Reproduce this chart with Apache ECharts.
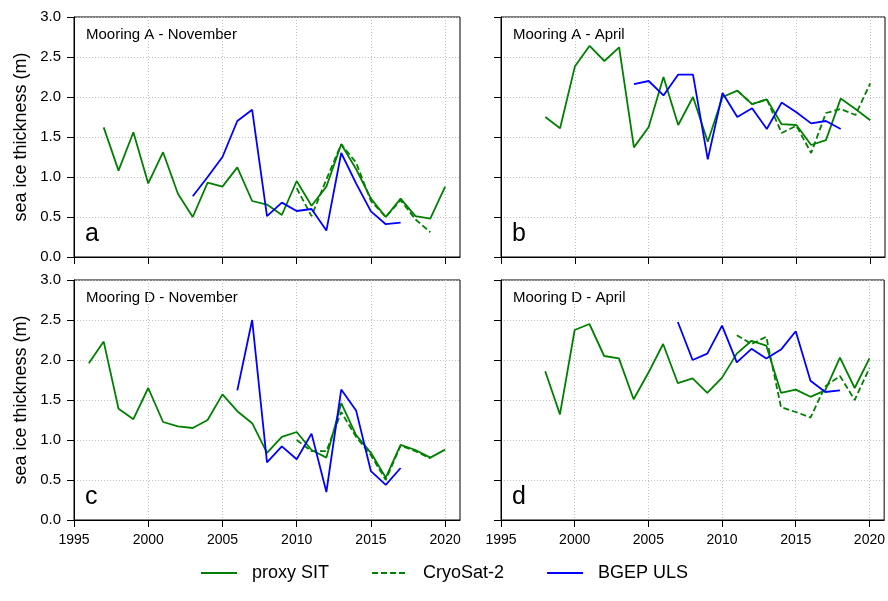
<!DOCTYPE html>
<html><head><meta charset="utf-8">
<script src="https://cdn.jsdelivr.net/npm/echarts@6/dist/echarts.min.js"></script>
<style>html,body{margin:0;padding:0;background:#fff}#c{width:888px;height:601px}</style>
</head><body><div id="c"></div>
<script>
// ---- data ----
const panelTitles = ['Mooring A - November', 'Mooring A - April', 'Mooring D - November', 'Mooring D - April'];
const panelLetters = ['a', 'b', 'c', 'd'];
const xTicks = [1995, 2000, 2005, 2010, 2015, 2020];
const yTicks = [0, 0.5, 1.0, 1.5, 2.0, 2.5, 3.0];
const seriesNames = ['proxy SIT', 'CryoSat-2', 'BGEP ULS'];

// Panel a: Mooring A - November
const aProxyYears = [1997,1998,1999,2000,2001,2002,2003,2004,2005,2006,2007,2008,2009,2010,2011,2012,2013,2014,2015,2016,2017,2018,2019,2020];
const aProxy = [1.62,1.08,1.56,0.92,1.31,0.79,0.50,0.93,0.88,1.12,0.70,0.655,0.525,0.95,0.64,0.88,1.41,1.10,0.73,0.50,0.73,0.51,0.48,0.88];
const aCryoYears = [2010,2011,2012,2013,2014,2015,2016,2017,2018,2019];
const aCryo = [0.86,0.51,0.97,1.41,1.18,0.70,0.50,0.71,0.47,0.31];
const aUlsYears = [2003,2004,2005,2006,2007,2008,2009,2010,2011,2012,2013,2014,2015,2016,2017];
const aUls = [0.76,1.00,1.25,1.70,1.84,0.51,0.68,0.575,0.60,0.33,1.30,0.92,0.57,0.41,0.43];

// Panel b: Mooring A - April
const bProxyYears = [1998,1999,2000,2001,2002,2003,2004,2005,2006,2007,2008,2009,2010,2011,2012,2013,2014,2015,2016,2017,2018,2019,2020];
const bProxy = [1.75,1.61,2.38,2.64,2.45,2.62,1.37,1.625,2.25,1.65,2.00,1.44,2.00,2.08,1.91,1.97,1.66,1.65,1.40,1.46,1.98,1.85,1.71];
const bCryoYears = [2011,2012,2013,2014,2015,2016,2017,2018,2019,2020];
const bCryo = [2.08,1.91,1.97,1.55,1.64,1.30,1.80,1.85,1.775,2.17];
const bUlsYears = [2004,2005,2006,2007,2008,2009,2010,2011,2012,2013,2014,2015,2016,2017,2018];
const bUls = [2.16,2.20,2.02,2.28,2.28,1.22,2.05,1.75,1.86,1.60,1.93,1.81,1.67,1.70,1.60];

// Panel c: Mooring D - November
const cProxyYears = [1996,1997,1998,1999,2000,2001,2002,2003,2004,2005,2006,2007,2008,2009,2010,2011,2012,2013,2014,2015,2016,2017,2018,2019,2020];
const cProxy = [1.96,2.23,1.39,1.26,1.65,1.225,1.17,1.15,1.25,1.57,1.36,1.21,0.84,1.04,1.10,0.875,0.78,1.46,1.06,0.84,0.53,0.94,0.875,0.78,0.88];
const cCryoYears = [2010,2011,2012,2013,2014,2015,2016,2017,2018,2019];
const cCryo = [1.00,0.86,0.86,1.35,1.04,0.81,0.50,0.93,0.86,0.77];
const cUlsYears = [2006,2007,2008,2009,2010,2011,2012,2013,2014,2015,2016,2017];
const cUls = [1.62,2.50,0.72,0.92,0.76,1.08,0.35,1.63,1.37,0.61,0.44,0.65];

// Panel d: Mooring D - April
const dProxyYears = [1998,1999,2000,2001,2002,2003,2004,2005,2006,2007,2008,2009,2010,2011,2012,2013,2014,2015,2016,2017,2018,2019,2020];
const dProxy = [1.86,1.32,2.375,2.45,2.05,2.02,1.51,1.84,2.20,1.71,1.77,1.59,1.78,2.08,2.24,2.18,1.59,1.63,1.54,1.62,2.03,1.65,2.02];
const dCryoYears = [2011,2012,2013,2014,2015,2016,2017,2018,2019,2020];
const dCryo = [2.31,2.20,2.29,1.41,1.35,1.28,1.67,1.80,1.50,1.90];
const dUlsYears = [2007,2008,2009,2010,2011,2012,2013,2014,2015,2016,2017,2018];
const dUls = [2.475,2.00,2.08,2.43,1.97,2.14,2.02,2.13,2.36,1.74,1.60,1.62];

// ---- layout / style ----
const FONT = 'Liberation Sans, Arial, Helvetica, sans-serif';
const GREEN = '#008000', BLUE = '#0000ff';
const grids = [
  {left: 74, top: 17, width: 386, height: 240},
  {left: 501, top: 17, width: 384, height: 240},
  {left: 74, top: 280, width: 386, height: 240},
  {left: 501, top: 280, width: 384, height: 240}
];
const panels = [
  [[aProxyYears, aProxy], [aCryoYears, aCryo], [aUlsYears, aUls]],
  [[bProxyYears, bProxy], [bCryoYears, bCryo], [bUlsYears, bUls]],
  [[cProxyYears, cProxy], [cCryoYears, cCryo], [cUlsYears, cUls]],
  [[dProxyYears, dProxy], [dCryoYears, dCryo], [dUlsYears, dUls]]
];
const styles = [
  {color: GREEN, type: 'solid'},
  {color: GREEN, type: [6, 3]},
  {color: BLUE, type: 'solid'}
];

const zip = (xs, ys) => xs.map((x, i) => [x, ys[i]]);

const xAxes = grids.map((g, i) => ({
  type: 'value', gridIndex: i, min: 1995, max: 2021, interval: 5,
  axisLine: {show: true, lineStyle: {color: '#000', width: 1}},
  axisTick: {show: true, length: 7, lineStyle: {color: '#000'}, customValues: xTicks},
  axisLabel: {show: i >= 2, color: '#000', fontSize: 14, fontFamily: FONT, margin: 13, customValues: xTicks, formatter: v => String(v)},
  splitLine: {show: true, lineStyle: {color: '#c0c0c0', type: [1, 2], width: 1}}
}));
const yAxes = grids.map((g, i) => ({
  type: 'value', gridIndex: i, min: 0, max: 3, interval: 0.5,
  name: (i % 2 === 0) ? 'sea ice thickness (m)' : '',
  nameLocation: 'middle', nameGap: 44, nameRotate: 90,
  nameTextStyle: {fontSize: 18, fontFamily: FONT, color: '#000'},
  axisLine: {show: true, lineStyle: {color: '#000', width: 1}},
  axisTick: {show: true, length: 7, lineStyle: {color: '#000'}},
  axisLabel: {show: i % 2 === 0, color: '#000', fontSize: 15, fontFamily: FONT, margin: 13, formatter: v => v.toFixed(1)},
  splitLine: {show: true, lineStyle: {color: '#c0c0c0', type: [1, 2], width: 1}}
}));

const series = [];
panels.forEach((p, gi) => {
  p.forEach((s, si) => {
    series.push({
      type: 'line', name: seriesNames[si], xAxisIndex: gi, yAxisIndex: gi,
      data: zip(s[0], s[1]), showSymbol: false, symbol: 'none',
      lineStyle: {color: styles[si].color, width: 1.8, type: styles[si].type},
      itemStyle: {color: styles[si].color},
      z: si === 2 ? 3 : 2, animation: false
    });
  });
});

const graphic = [];
grids.forEach((g, i) => {
  graphic.push({type: 'text', left: g.left + 12, top: g.top + 10,
    style: {text: panelTitles[i], font: '15px ' + FONT, fill: '#000'}});
  graphic.push({type: 'text', left: g.left + 11, top: g.top + g.height - 35,
    style: {text: panelLetters[i], font: '25px ' + FONT, fill: '#000'}});
});

const chart = echarts.init(document.getElementById('c'), null, {renderer: 'canvas'});
chart.setOption({
  animation: false,
  backgroundColor: '#fff',
  grid: grids.map(g => Object.assign({show: true, borderColor: '#000', borderWidth: 1, backgroundColor: 'transparent'}, g)),
  xAxis: xAxes,
  yAxis: yAxes,
  series: series,
  graphic: graphic,
  legend: {
    data: seriesNames, left: 200, top: 564, padding: 0, itemWidth: 36, itemHeight: 14, itemGap: 42,
    itemStyle: {opacity: 0},
    textStyle: {fontSize: 18, fontFamily: FONT, color: '#000', padding: [0, 0, 0, 10]}
  }
});
</script></body></html>
